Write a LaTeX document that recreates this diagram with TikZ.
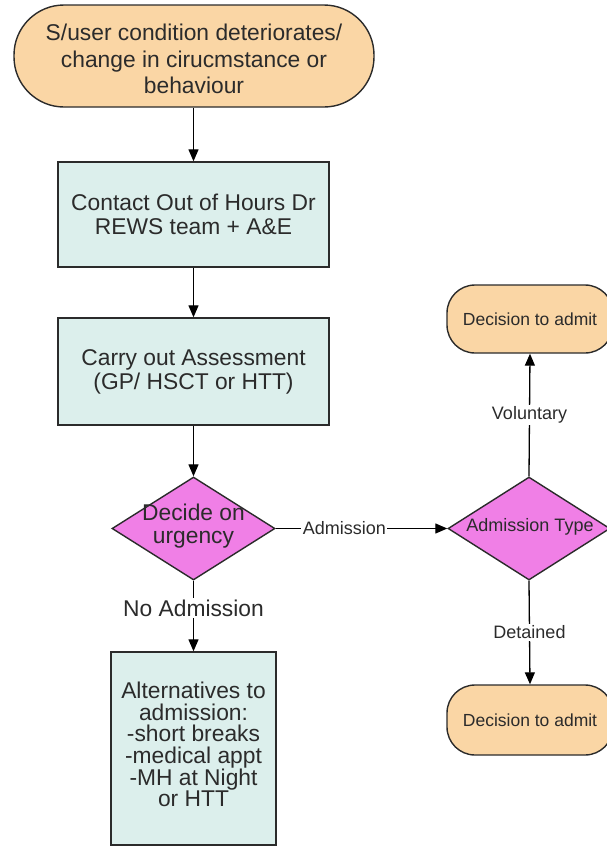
\documentclass[tikz,border=0pt]{standalone}
\usepackage{fontspec}
\setmainfont{Liberation Sans}
\usetikzlibrary{shapes.geometric,arrows.meta}
\definecolor{peach}{HTML}{FAD6A5}
\definecolor{pale}{HTML}{DCEFEC}
\definecolor{pinkish}{HTML}{F07FE6}
\definecolor{ink}{HTML}{2B2B2B}
\begin{document}
\begin{tikzpicture}[x=1pt,y=-1pt,
  base/.style={draw=ink, line width=1.4pt, inner sep=0pt, align=center, text=ink},
  bigfont/.style={font=\fontsize{22.8}{24}\selectfont},
  smallfont/.style={font=\fontsize{18}{20}\selectfont},
  startnode/.style={base, fill=peach, rounded corners=50pt, minimum width=360pt, minimum height=102pt, font=\fontsize{22.8}{26.5}\selectfont},
  procbox/.style={base, bigfont, fill=pale},
  decshape/.style={base, diamond, fill=pinkish},
  endnode/.style={base, font=\fontsize{17.5}{20}\selectfont, fill=peach, rounded corners=28pt, minimum width=166pt},
  conn/.style={draw=black, line width=1.3pt, -{Triangle[length=12pt,width=10pt]}},
  lab/.style={fill=white, inner sep=1.5pt, text=ink}
]
\useasboundingbox (0,0) rectangle (606,846);
% nodes
\node[startnode] (start) at (194,56) {};
\node[text=ink, align=center, inner sep=0pt, font=\fontsize{22.8}{26.5}\selectfont] (starttxt) at (194,59) {S/user condition deteriorates/\\change in cirucmstance or\\behaviour};
\node[procbox, minimum width=271pt, minimum height=105pt] (contact) at (193.5,214.5) {Contact Out of Hours Dr\\REWS team + A\&E};
\node[procbox, minimum width=271pt, minimum height=107pt] (assess) at (193.5,371.5) {Carry out Assessment\\(GP/ HSCT or HTT)};
\node[decshape, minimum width=163pt, minimum height=103pt] (urgency) at (193.5,528.5) {};
\node[text=ink, align=center, inner sep=0pt, font=\fontsize{22.8}{23}\selectfont] (urgencytxt) at (193.5,526.5) {Decide on\\urgency};
\node[procbox, minimum width=165pt, minimum height=193pt, font=\fontsize{22.8}{21.7}\selectfont] (alt) at (193.5,748.5) {};
\node[text=ink, align=center, inner sep=0pt, font=\fontsize{22.8}{21.7}\selectfont] (alttxt) at (193.5,744.5) {Alternatives to\\admission:\\-short breaks\\-medical appt\\-MH at Night\\or HTT};
\node[decshape, minimum width=162pt, minimum height=103pt] (admtype) at (529,528.5) {};
\node[smallfont, text=ink, inner sep=0pt] (admtypetxt) at (530,527) {Admission Type};
\node[endnode, minimum height=68pt] (vol) at (530,319) {Decision to admit};
\node[endnode, minimum height=70pt] (det) at (530,720) {Decision to admit};
% connectors
\draw[conn] (start.south -| contact.north) -- (contact);
\draw[conn] (contact) -- (assess);
\draw[conn] (assess) -- (urgency.north);
\draw[conn] (urgency.south) -- node[lab, bigfont, pos=0.39] {No Admission} (alt.north);
\draw[conn] (urgency.east) -- node[lab, smallfont, pos=0.40] {Admission} (admtype.west);
\draw[conn] (admtype.north) -- node[lab, smallfont, pos=0.5] {Voluntary} (vol.south);
\draw[conn] (admtype.south) -- node[lab, smallfont, pos=0.5] {Detained} (det.north);
\end{tikzpicture}
\end{document}
